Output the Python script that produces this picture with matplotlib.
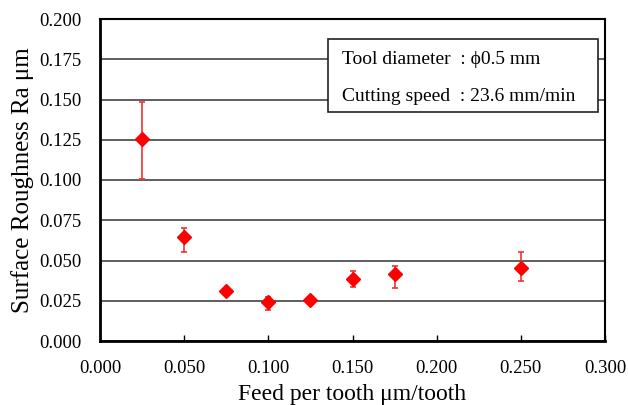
import matplotlib
matplotlib.use("Agg")
import matplotlib.pyplot as plt
from matplotlib.ticker import FormatStrFormatter
from matplotlib.patches import Rectangle

plt.rcParams['font.family'] = ['Liberation Serif', 'DejaVu Serif']

feed = [0.025, 0.050, 0.075, 0.100, 0.125, 0.150, 0.175, 0.250]
ra = [0.1256, 0.0646, 0.0313, 0.0240, 0.0257, 0.0387, 0.0418, 0.0455]
err_hi = [0.1482, 0.0704, 0.0320, 0.0276, 0.0262, 0.0436, 0.0468, 0.0555]
err_lo = [0.1006, 0.0555, 0.0306, 0.0195, 0.0252, 0.0337, 0.0328, 0.0375]

xticks = [0.0, 0.05, 0.10, 0.15, 0.20, 0.25, 0.30]
yticks = [0.0, 0.025, 0.05, 0.075, 0.10, 0.125, 0.15, 0.175, 0.20]

fig = plt.figure(figsize=(6.28, 4.05), dpi=100)
ax = fig.add_axes([100/628, 1-341/405, 505/628, 322/405])

yerr = [[r - lo for r, lo in zip(ra, err_lo)], [hi - r for r, hi in zip(ra, err_hi)]]
ax.errorbar(feed, ra, yerr=yerr, fmt='D', color='red', ecolor='#ee3333',
            markersize=7, elinewidth=1.2, capsize=2.2, capthick=1.2, zorder=3)

ax.set_xlim(0, 0.30)
ax.set_ylim(0, 0.20)
ax.set_xticks(xticks)
ax.set_yticks(yticks)
ax.xaxis.set_major_formatter(FormatStrFormatter('%.3f'))
ax.yaxis.set_major_formatter(FormatStrFormatter('%.3f'))
ax.tick_params(axis='x', direction='in', length=4, width=1, labelsize=13.5, pad=14)
ax.tick_params(axis='y', direction='out', length=0, labelsize=13.5, pad=13)
ax.yaxis.grid(True, color='#333333', linewidth=1.1)
ax.set_axisbelow(True)
for s in ['left', 'bottom']:
    ax.spines[s].set_linewidth(2)
for s in ['top', 'right']:
    ax.spines[s].set_linewidth(1.5)

ax.set_xlabel('Feed per tooth μm/tooth', fontsize=17, labelpad=5)
ax.set_ylabel('Surface Roughness Ra μm', fontsize=18, labelpad=4)

ax.add_patch(Rectangle((0.4515, 0.711), 0.5345, 0.227, transform=ax.transAxes,
                       facecolor='white', edgecolor='#222222', linewidth=1.2, zorder=4))
ax.text(0.479, 0.873, 'Tool diameter  : ϕ0.5 mm', transform=ax.transAxes,
        fontsize=14, va='center', ha='left', zorder=5)
ax.text(0.479, 0.758, 'Cutting speed  : 23.6 mm/min', transform=ax.transAxes,
        fontsize=14, va='center', ha='left', zorder=5)

fig.savefig('out.png', dpi=100)
